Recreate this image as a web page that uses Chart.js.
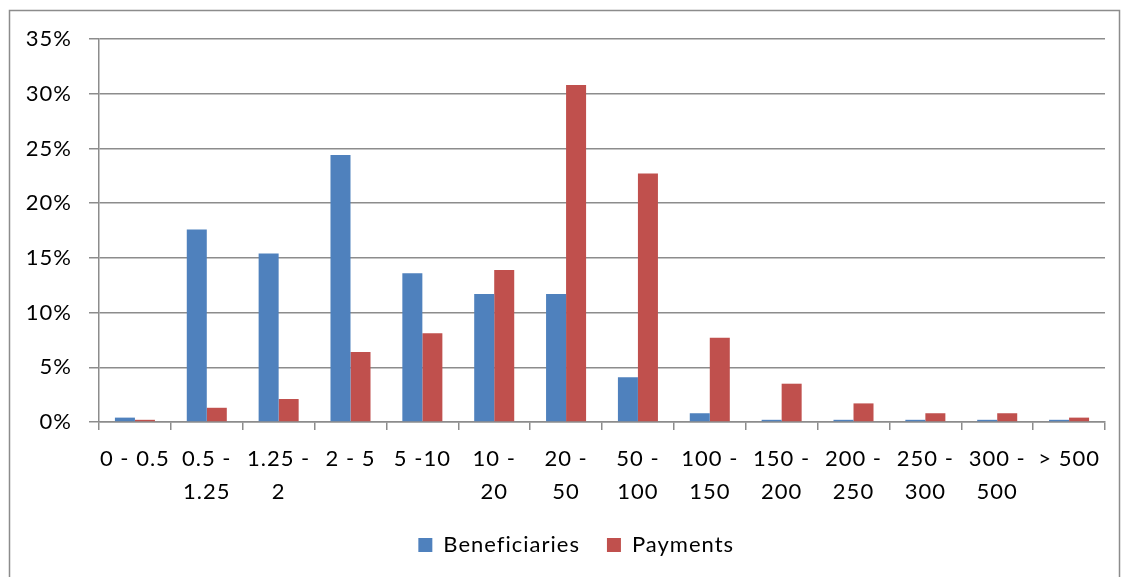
<!DOCTYPE html>
<html><head><meta charset="utf-8">
<script src="https://cdn.jsdelivr.net/npm/chart.js@4"></script>
<style>html,body{margin:0;padding:0;background:#fff;}#wrap{width:1122px;height:577px;position:relative;}</style>
</head><body><div id="wrap"><canvas id="c" width="1122" height="577"></canvas></div>
<script>
const categories = ["0 - 0.5", ["0.5 -","1.25"], ["1.25 -","2"], "2 - 5", "5 -10", ["10 -","20"], ["20 -","50"], ["50 -","100"], ["100 -","150"], ["150 -","200"], ["200 -","250"], ["250 -","300"], ["300 -","500"], "> 500"];
const beneficiaries = [0.4, 17.6, 15.4, 24.4, 13.6, 11.7, 11.7, 4.1, 0.8, 0.2, 0.2, 0.2, 0.2, 0.2];
const payments = [0.2, 1.3, 2.1, 6.4, 8.1, 13.9, 30.8, 22.7, 7.7, 3.5, 1.7, 0.8, 0.8, 0.4];
const yTicks = [0, 5, 10, 15, 20, 25, 30, 35];

const FONT = "Lato, 'Open Sans', sans-serif";
const border = {
  id: 'outerBorder',
  beforeInit(chart) {
    chart.ctx.letterSpacing = '1px';
  },
  beforeDraw(chart) {
    const ctx = chart.ctx;
    ctx.letterSpacing = '1px';
    ctx.save();
    ctx.fillStyle = '#fff';
    ctx.fillRect(0, 0, chart.width, chart.height);
    ctx.strokeStyle = '#8c8c8c';
    ctx.lineWidth = 1.5;
    ctx.strokeRect(9.5, 10.5, 1110, 600);
    ctx.restore();
  }
};

new Chart(document.getElementById('c'), {
  type: 'bar',
  data: {
    labels: categories,
    datasets: [
      { label: 'Beneficiaries', data: beneficiaries, backgroundColor: '#4F81BD', borderWidth: 0 },
      { label: 'Payments', data: payments, backgroundColor: '#C0504D', borderWidth: 0 }
    ]
  },
  options: {
    responsive: false,
    animation: false,
    devicePixelRatio: 1,
    categoryPercentage: 0.557,
    barPercentage: 1,
    layout: { padding: { left: 26, right: 17, top: 39, bottom: 11 } },
    plugins: {
      tooltip: { enabled: false },
      legend: {
        position: 'bottom',
        labels: {
          font: { family: FONT, size: 22 },
          color: '#000',
          boxWidth: 14, boxHeight: 14,
          padding: 27
        }
      }
    },
    scales: {
      x: {
        grid: { drawOnChartArea: false, drawTicks: true, tickLength: 8, color: '#8c8c8c', lineWidth: 1.5 },
        border: { color: '#8c8c8c', width: 1.5 },
        ticks: { font: { family: FONT, size: 22, lineHeight: 1.52 }, color: '#000', maxRotation: 0, autoSkip: false, padding: 12 },
        afterFit(s) { s.height = 85; }
      },
      y: {
        min: 0, max: 35,
        afterBuildTicks(s) { s.ticks = yTicks.map(v => ({ value: v })); },
        grid: { color: '#8c8c8c', lineWidth: 1.5, tickLength: 10 },
        border: { color: '#8c8c8c', width: 1.5 },
        ticks: { font: { family: FONT, size: 22 }, color: '#000', padding: 17, callback: v => v + '%' },
        afterFit(s) { s.width = 73; }
      }
    }
  },
  plugins: [border]
});
</script></body></html>
